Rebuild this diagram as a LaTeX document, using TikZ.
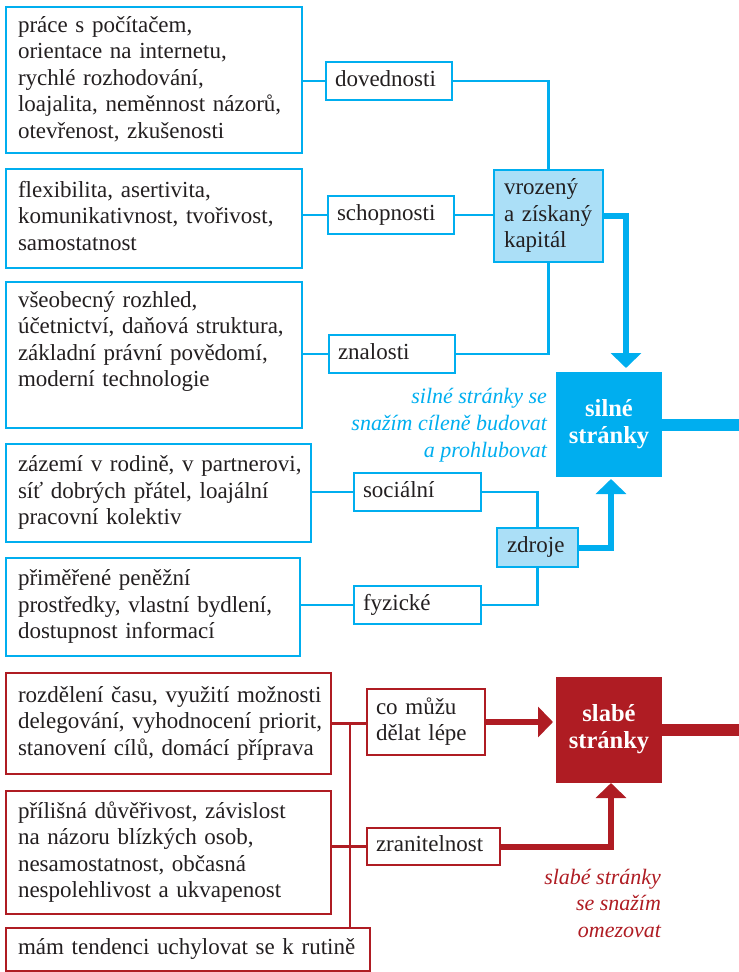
\documentclass[tikz,border=0pt]{standalone}
\usepackage{fontspec}
\setmainfont{Liberation Serif}
\usetikzlibrary{arrows.meta,calc}
\definecolor{cyanB}{HTML}{00AEEF}
\definecolor{lightB}{HTML}{ABDFF7}
\definecolor{redB}{HTML}{AF1C23}
\definecolor{txt}{HTML}{231F20}
\newcommand{\lns}[1]{\begin{tabular}{@{}l@{}}#1\end{tabular}}
\newcommand{\rlns}[1]{\begin{tabular}{@{}r@{}}#1\end{tabular}}
\newcommand{\clns}[1]{\begin{tabular}{@{}c@{}}#1\end{tabular}}
\begin{document}
\begin{tikzpicture}[x=1pt,y=-1pt,
  base/.style={line width=2.8pt, inner xsep=12pt, inner ysep=0pt, align=left, text=txt, fill=white,
    font=\fontsize{23}{26.5}\selectfont, outer sep=0pt},
  bbox/.style={base, draw=cyanB},
  rbox/.style={base, draw=redB},
  blab/.style={bbox, inner xsep=9pt},
  rlab/.style={rbox, inner xsep=9pt},
  bfill/.style={bbox, inner xsep=10pt, fill=lightB},
  bigbox/.style={inner sep=0pt, outer sep=0pt, minimum width=106pt, minimum height=105pt, text=white,
    align=center, font=\bfseries\fontsize{24.5}{27}\selectfont},
  capt/.style={inner sep=0pt, outer sep=0pt, align=right, font=\itshape\fontsize{22}{26.7}\selectfont},
  bl/.style={draw=cyanB, line width=2.8pt},
  rl/.style={draw=redB, line width=2.5pt},
  barb/.style={draw=cyanB, line width=6pt, -{Triangle[length=15pt 0 0, width=30pt 0 0]}},
  barr/.style={draw=redB, line width=6pt, -{Triangle[length=15pt 0 0, width=30pt 0 0]}},
]
\useasboundingbox (0,0) rectangle (739,972);

% ---------- blue part ----------
\node[bbox, text width=272pt, minimum height=146pt] (a1) at (154,80)
  {\lns{práce s počítačem,\\orientace na internetu,\\rychlé rozhodování,\\loajalita, neměnnost názorů,\\otevřenost, zkušenosti}};
\node[bbox, text width=272pt, minimum height=99pt] (a2) at (154,218.5)
  {\lns{flexibilita, asertivita,\\komunikativnost, tvořivost,\\samostatnost}};
\node[bbox, text width=272pt, minimum height=146pt] (a3) at (154,355)
  {\lns{všeobecný rozhled,\\účetnictví, daňová struktura,\\základní právní povědomí,\\moderní technologie\\ \mbox{}}};
\node[bbox, text width=281pt, minimum height=98pt] (b1) at (158.5,493)
  {\lns{zázemí v rodině, v partnerovi,\\síť dobrých přátel, loajální\\pracovní kolektiv}};
\node[bbox, text width=270pt, minimum height=98pt] (b2) at (153,607)
  {\lns{přiměřené peněžní\\prostředky, vlastní bydlení,\\dostupnost informací}};

\node[blab, text width=108pt, minimum height=38pt] (dov) at (389,81) {\lns{dovednosti}};
\node[blab, text width=108pt, minimum height=38pt] (sch) at (391,215) {\lns{schopnosti}};
\node[blab, text width=108pt, minimum height=38pt] (zn) at (392,354) {\lns{znalosti}};
\node[blab, text width=109pt, minimum height=38pt] (soc) at (417.5,492) {\lns{sociální}};
\node[blab, text width=109pt, minimum height=38pt] (fyz) at (417.5,605) {\lns{fyzické}};
\node[bfill, text width=89pt, minimum height=92pt] (vz) at (548.5,216) {\lns{vrozený\\a získaný\\kapitál}};
\node[bfill, text width=61pt, minimum height=39pt] (zd) at (537.5,547.5) {\lns{zdroje}};
\node[bigbox, fill=cyanB] (si) at (609,424.5) {\clns{silné\\stránky}};
\node[capt, text=cyanB, anchor=north east] (cb) at (547,385.2)
  {\rlns{silné stránky se\\snažím cíleně budovat\\a prohlubovat}};

\draw[bl] (a1.east |- dov.west) -- (dov.west);
\draw[bl] (dov.east) -| (vz.north);
\draw[bl] (a2.east |- sch.west) -- (sch.west);
\draw[bl] (sch.east) -- (vz.west |- sch.east);
\draw[bl] (a3.east |- zn.west) -- (zn.west);
\draw[bl] (zn.east) -| (vz.south);
\draw[bl] (b1.east |- soc.west) -- (soc.west);
\draw[bl] (soc.east) -| (zd.north);
\draw[bl] (b2.east |- fyz.west) -- (fyz.west);
\draw[bl] (fyz.east) -| (zd.south);
\draw[barb, shorten >=4pt] (vz.east) -| ([xshift=17pt]si.north);
\draw[barb, shorten >=2pt] (zd.east) -| ([xshift=2pt]si.south);
\coordinate (sir) at (745,426);
\draw[cyanB, line width=12pt] (si.east) -- (si.east -| sir);

% ---------- red part ----------
\node[rbox, text width=301pt, minimum height=101pt] (r1) at (168.5,723.5)
  {\lns{rozdělení času, využití možnosti\\delegování, vyhodnocení priorit,\\stanovení cílů, domácí příprava}};
\node[rbox, text width=301pt, minimum height=123pt] (r2) at (168.5,852.5)
  {\lns{přílišná důvěřivost, závislost\\na názoru blízkých osob,\\nesamostatnost, občasná\\nespolehlivost a ukvapenost}};
\node[rbox, text width=340pt, minimum height=43pt] (r3) at (188,949.5)
  {\lns{mám tendenci uchylovat se k rutině}};
\node[rlab, text width=100pt, minimum height=66pt] (cm) at (426,722) {\lns{co můžu\\dělat lépe}};
\node[rlab, text width=115pt, minimum height=37pt] (zr) at (433.5,846.5) {\lns{zranitelnost}};
\node[bigbox, fill=redB, minimum height=106pt] (sl) at (609,730) {\clns{slabé\\stránky}};
\node[capt, text=redB, anchor=north east] (cr) at (661,865.3)
  {\rlns{slabé stránky\\se snažím\\omezovat}};

\coordinate (rj) at (350,723.5);
\draw[rl] (r1.east) -- (r1.east -| cm.west);
\draw[rl] (rj) -- (rj |- r3.north);
\draw[rl] (zr.west -| r2.east) -- (zr.west);
\draw[barr, shorten >=3pt] (cm.east) -- (cm.east -| sl.west);
\draw[barr] (zr.east) -| ([xshift=2pt]sl.south);
\coordinate (slr) at (745,731);
\draw[redB, line width=12pt] (sl.east) -- (sl.east -| slr);
\end{tikzpicture}
\end{document}
